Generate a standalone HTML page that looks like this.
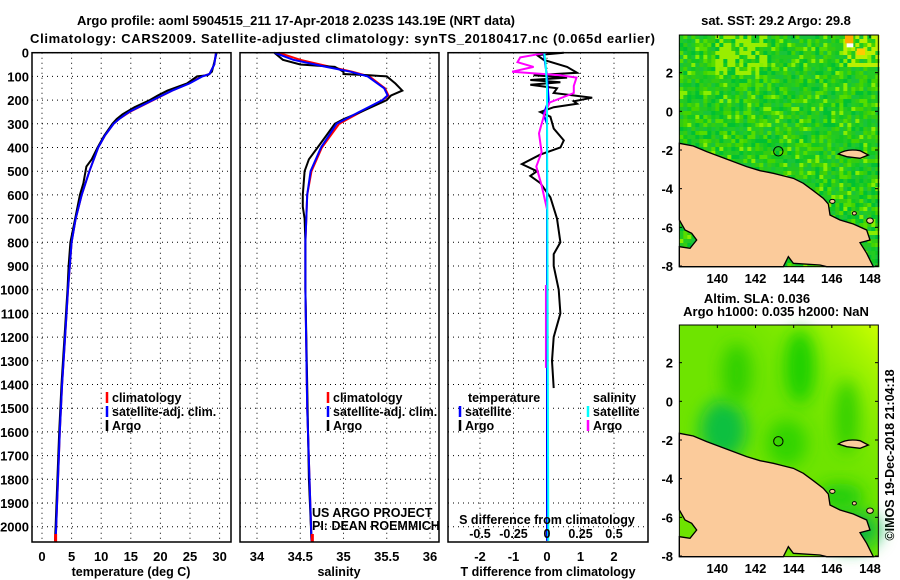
<!DOCTYPE html>
<html><head><meta charset="utf-8"><style>
html,body{margin:0;padding:0;background:#fff}
svg{display:block;font-family:"Liberation Sans",sans-serif}
.b{font-weight:bold;font-size:13px}
.t{font-weight:bold;font-size:12.5px}
</style></head><body>
<svg id="s" width="900" height="580" viewBox="0 0 900 580">
<text class="b" x="77" y="25" textLength="438">Argo profile: aoml 5904515_211 17-Apr-2018 2.023S 143.19E (NRT data)</text>
<text class="b" x="30" y="43" textLength="625">Climatology: CARS2009. Satellite-adjusted climatology: synTS_20180417.nc (0.065d earlier)</text>
<g id="grid"></g>
<g id="lines"></g>
<g id="frames"></g>
<g id="labels"></g>
<g id="maps"></g>
</svg>
<script>
// ---- data ----
const depthTicks=[0,100,200,300,400,500,600,700,800,900,1000,1100,1200,1300,1400,1500,1600,1700,1800,1900,2000];
const tempTicks=[0,5,10,15,20,25,30];
const salTicks=[34,34.5,35,35.5,36];
const salTickLabels=["34","34.5","35","35.5","36"];
const tdTicks=[-2,-1,0,1,2];
const sdTicks=[-0.5,-0.25,0,0.25,0.5];
const sdTickLabels=["-0.5","-0.25","0","0.25","0.5"];

const argoTDepth=[0,20,50,80,95,100,130,160,180,200,230,260,280,300,350,400,450,480,550,600,700,800,900,1000,1200,1400,1600,1800,2000,2060];
const argoT=[29.5,29.3,29.0,28.7,28.0,26.2,24.5,21.2,19.6,18.2,15.6,13.6,12.6,11.9,10.5,9.4,8.4,7.5,7.0,6.4,5.6,4.8,4.5,4.3,3.8,3.3,2.9,2.6,2.3,2.2];
const climTDepth=[0,50,90,100,130,160,200,250,280,300,350,400,500,600,700,800,1000,1200,1400,1600,1800,2000,2060];
const climT=[29.4,29.1,28.3,27.0,24.8,22.0,18.8,14.8,13.0,12.1,10.6,9.5,8.0,6.7,5.7,5.0,4.4,3.9,3.4,3.0,2.7,2.4,2.3];
const satT=[29.4,29.1,28.3,27.1,24.9,22.0,18.7,14.7,13.0,12.1,10.6,9.5,8.0,6.7,5.7,5.0,4.4,3.9,3.4,3.0,2.7,2.4,2.3];

const argoSDepth=[0,30,50,60,80,90,95,100,130,160,180,200,250,280,300,350,400,450,500,600,650,700,800,1000,1400,1800,2060];
const argoS=[34.2,34.3,34.5,34.9,35.0,35.0,35.3,35.5,35.6,35.68,35.55,35.5,35.2,35.0,34.9,34.8,34.7,34.6,34.55,34.53,34.53,34.55,34.56,34.56,34.58,34.6,34.63];
const climSDepth=[0,30,60,80,100,150,180,200,250,300,400,500,600,800,1000,1500,2060];
const climS=[34.25,34.5,34.85,35.1,35.3,35.48,35.52,35.45,35.2,34.95,34.75,34.63,34.58,34.56,34.56,34.58,34.63];
const satS=[34.2,34.42,34.8,35.08,35.28,35.47,35.51,35.45,35.18,34.92,34.74,34.62,34.58,34.56,34.56,34.58,34.63];

const tdDepth=[0,10,30,60,85,95,105,115,125,135,150,170,190,205,215,230,250,270,320,370,400,430,470,500,520,550,610,700,800,850,900,1000,1100,1200,1300,1415];
const tdArgo=[0.5,-0.3,-0.1,0.6,0.9,-0.4,0.6,-0.5,0.4,-0.5,0.3,0.2,1.35,0.8,0.9,0.2,-0.2,0.1,0.2,0.5,0.4,-0.2,-0.75,-0.3,-0.5,-0.2,0.1,0.3,0.4,0.2,0.2,0.35,0.4,0.2,0.15,0.2];
const tdSatDepth=[0,100,200,260,300,2060];
const tdSat=[-0.1,0.0,0.05,-0.1,0.0,0.0];
const sdDepth=[0,20,40,60,80,95,105,140,170,210,260,340,420,480,560,660];
const sdArgo=[0.0,-0.2,-0.22,-0.1,-0.26,0.1,0.22,0.2,0.2,0.02,-0.02,-0.06,-0.04,-0.08,-0.04,0.0];
const sdSatDepth=[0,50,150,2060];
const sdSat=[-0.02,-0.01,0.0,0.01];

// ---- axes ----
const Y0=52.7,YB=542;
const yD=d=>Y0+d*0.237;
const xT=t=>42+t*5.92;
const xS=s=>257+(s-34)*86.5;
const xTd=v=>547+v*33.5;
const xSd=v=>547+v*134;
const panels=[[32,231],[240,439],[448,648]];
const NS='http://www.w3.org/2000/svg';
function mk(tag,attrs,parent){const e=document.createElementNS(NS,tag);for(const k in attrs)e.setAttribute(k,attrs[k]);parent.appendChild(e);return e;}
const G=document.getElementById('grid'),L=document.getElementById('lines'),F=document.getElementById('frames'),T=document.getElementById('labels'),M=document.getElementById('maps');

panels.forEach(([a,b],i)=>{
  depthTicks.forEach(d=>{const l=mk('line',{x1:a,x2:b,y1:yD(d),y2:yD(d),stroke:'#000','stroke-width':1,'stroke-dasharray':'1,4'},G);
    
    });
});
function vgrid(ticks,fx){ticks.forEach(t=>{const l=mk('line',{x1:fx(t),x2:fx(t),y1:Y0,y2:YB,stroke:'#000','stroke-width':1,'stroke-dasharray':'1,4'},G);
  
  });}
vgrid(tempTicks,xT);vgrid(salTicks,xS);vgrid(tdTicks,xTd);

function line(vals,deps,fx,color,name,w){
  const pts=vals.map((v,i)=>fx(v).toFixed(1)+','+yD(deps[i]).toFixed(1)).join(' ');
  const p=mk('polyline',{points:pts,fill:'none',stroke:color,'stroke-width':w||2},L);
  
  
}
line(climT,climTDepth,xT,'#f00','temp-climatology-line');
line(argoT,argoTDepth,xT,'#000','temp-argo-line');
line(satT,climTDepth,xT,'#00f','temp-satellite-line');
line(climS,climSDepth,xS,'#f00','sal-climatology-line');
line(argoS,argoSDepth,xS,'#000','sal-argo-line');
line(satS,climSDepth,xS,'#00f','sal-satellite-line');
line(tdArgo,tdDepth,xTd,'#000','tdiff-argo-line');
line(tdSat,tdSatDepth,xTd,'#00f','tdiff-satellite-line');
line(sdArgo,sdDepth,xSd,'#f0f','sdiff-argo-line');
line([-0.01,-0.01],[980,1330],xSd,'#f0f','sdiff-argo-deep-line',1.5);
line(sdSat,sdSatDepth,xSd,'#0ff','sdiff-satellite-line');
[[xT(2.3),'#f00'],[xS(34.64),'#f00']].forEach(([x,c])=>{const r=mk('line',{x1:x,x2:x,y1:534,y2:542,stroke:c,'stroke-width':3},L);
  
  });

panels.forEach(([a,b])=>{const r=mk('rect',{x:a,y:Y0,width:b-a,height:YB-Y0,fill:'none',stroke:'#000','stroke-width':1.5},F);
  
  });

function txt(s,x,y,anchor,cls,name,extra){const t=mk('text',Object.assign({x:x,y:y,'text-anchor':anchor||'start',class:cls||'t'},extra||{}),T);t.textContent=s;
  
  return t;}
depthTicks.forEach(d=>txt(String(d),29,yD(d)+5,'end','b','depth-tick-label'));
tempTicks.forEach(t=>txt(String(t),xT(t),561,'middle','b','temp-tick-label'));
salTicks.forEach((s,i)=>txt(salTickLabels[i],xS(s),561,'middle','b','sal-tick-label'));
tdTicks.forEach(t=>txt(String(t),xTd(t),561,'middle','b','tdiff-tick-label'));
sdTicks.forEach((s,i)=>txt(sdTickLabels[i],xSd(s),538,'middle','t','sdiff-tick-label'));
txt('temperature (deg C)',131,576,'middle','t','temp-axis-title');
txt('salinity',339,576,'middle','t','sal-axis-title');
txt('T difference from climatology',548,576,'middle','t','tdiff-axis-title');
txt('S difference from climatology',547,524,'middle','t','sdiff-axis-title');
txt('US ARGO PROJECT',312,517,'start','','project-credit',{'font-size':'12','font-weight':'normal'});
txt('PI: DEAN ROEMMICH',312,530,'start','','pi-credit',{'font-size':'12','font-weight':'normal'});

function leg(x,y,c,s,name){const l=mk('line',{x1:x,x2:x,y1:y-10,y2:y+1,stroke:c,'stroke-width':2.5},T);
  
  
  txt(s,x+5,y,'start','t',name);}
leg(107,402,'#f00','climatology','legend-climatology');
leg(107,416,'#00f','satellite-adj. clim.','legend-satellite');
leg(107,430,'#000','Argo','legend-argo');
leg(328,402,'#f00','climatology','legend2-climatology');
leg(328,416,'#00f','satellite-adj. clim.','legend2-satellite');
leg(328,430,'#000','Argo','legend2-argo');
txt('temperature',468,402,'start','t','legend3-temperature-header');
txt('salinity',593,402,'start','t','legend3-salinity-header');
leg(460,416,'#00f','satellite','legend3-temp-satellite');
leg(460,430,'#000','Argo','legend3-temp-argo');
leg(588,416,'#0ff','satellite','legend3-sal-satellite');
leg(588,430,'#f0f','Argo','legend3-sal-argo');

// ---- maps ----
function hash(i,j,k){let h=(i*374761393+j*668265263+k*2147483647)|0;h=(h^(h>>>13))*1274126177|0;return ((h^(h>>>16))>>>0)/4294967295;}
const coast="58,430 100,438 140,455 180,470 220,485 260,500 300,512 340,520 360,525 400,535 430,550 460,572 490,595 505,612 510,645 540,660 580,672 620,690 630,720 600,728 620,760 640,800 500,800 480,795 400,790 385,770 370,800 58,800 58,740 90,745 110,720 95,700 75,690 58,660";
function map(top,name,smooth){
  const g=mk('svg',{x:660,y:top,width:240,height:290,viewBox:'0 0 720 870'},M);
  
  
  if(!smooth){
    const pal=['#22cc22','#33cc11','#11c822','#00c033','#44d400','#22c822','#55dd00','#19c43a'];
    for(let i=0;i<50;i++)for(let j=0;j<58;j++){
      const r=hash(i,j,1);let c=pal[Math.floor(r*pal.length)];
      if(hash(i,j,3)>0.93)c='#88ee00';
      if(j<10&&i>8&&i<22&&r>0.55)c='#99ee00';
      if(i>40&&j<8&&hash(i,j,2)>0.5)c='#bbf000';
      mk('rect',{x:58+i*12,y:105+j*12,width:12.5,height:12.5,fill:c},g);
    }
    mk('rect',{x:555,y:105,width:25,height:25,fill:'#ffaa00'},g);
    mk('rect',{x:560,y:130,width:20,height:12,fill:'#fff'},g);
    mk('rect',{x:590,y:145,width:25,height:20,fill:'#ffcc00'},g);
  } else {
    mk('rect',{x:58,y:105,width:597,height:695,fill:'#6ee400'},g);
    const d=mk('defs',{},g);
    d.innerHTML='<filter id="bl" x="-50%" y="-50%" width="200%" height="200%"><feGaussianBlur stdDeviation="25"/></filter><linearGradient id="yg" x1="0" y1="1" x2="1" y2="0"><stop offset="0.55" stop-color="#6ee400" stop-opacity="0"/><stop offset="1" stop-color="#ccff00"/></linearGradient>';
    mk('rect',{x:58,y:105,width:597,height:695,fill:'url(#yg)'},g);
    [[190,420,70,90,'#10c040'],[230,250,45,90,'#33d000'],[420,230,45,110,'#1fd000'],[560,380,35,110,'#33d000'],[380,460,60,70,'#33d400'],[570,720,90,60,'#10b840'],[540,620,70,40,'#22cc11']].forEach(([cx,cy,rx,ry,c])=>mk('ellipse',{cx,cy,rx,ry,fill:c,filter:'url(#bl)'},g));
  }
  mk('polygon',{points:coast,fill:'#fbcb9b',stroke:'#000','stroke-width':4},g);
  mk('path',{d:'M535,462 Q560,445 600,452 L625,465 L600,475 L560,470 Z',fill:'#fbcb9b',stroke:'#000','stroke-width':4},g);
  mk('ellipse',{cx:517,cy:604,rx:8,ry:6,fill:'#fbcb9b',stroke:'#000','stroke-width':3},g);
  mk('ellipse',{cx:630,cy:662,rx:10,ry:8,fill:'#fbcb9b',stroke:'#000','stroke-width':3},g);
  mk('ellipse',{cx:583,cy:640,rx:6,ry:5,fill:'#fbcb9b',stroke:'#000','stroke-width':3},g);
  mk('circle',{cx:355,cy:454,r:14,fill:'none',stroke:'#000','stroke-width':3},g);
  mk('rect',{x:58,y:105,width:597,height:695,fill:'none',stroke:'#000','stroke-width':3},g);
  const lat=[2,0,-2,-4,-6,-8],lon=[140,142,144,146,148];
  lat.forEach(v=>{const y=top+(334-v*58)/3;
    txt(String(v),673,y+5,'end','b','map-lat-label');
    mk('line',{x1:679,x2:682,y1:y,y2:y,stroke:'#000'},M);mk('line',{x1:875,x2:878,y1:y,y2:y,stroke:'#000'},M);});
  lon.forEach(v=>{const x=660+(172+(v-140)*57.25)/3;
    txt(String(v),x,top+283,'middle','b','map-lon-label');
    mk('line',{x1:x,x2:x,y1:top+35,y2:top+38,stroke:'#000'},M);});
}
map(0,'sst-map',false);
map(290,'sla-map',true);
txt('sat. SST: 29.2 Argo: 29.8',776,25,'middle','b','sst-map-title');
txt('Altim. SLA: 0.036',757,303,'middle','b','sla-map-title-1');
txt('Argo h1000: 0.035 h2000: NaN',776,316,'middle','b','sla-map-title-2');
txt('©IMOS 19-Dec-2018 21:04:18',894,455,'middle','','imos-timestamp',{'font-size':'13','font-weight':'normal',transform:'rotate(-90 894 455)'});
</script>
</body></html>
